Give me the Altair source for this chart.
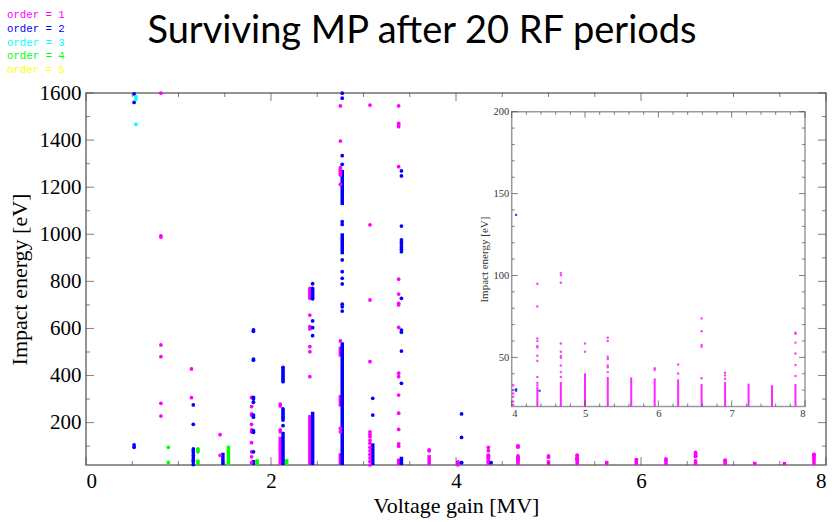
import altair as alt
import pandas as pd

# ---------------- data ----------------
TITLE = "Surviving MP after 20 RF periods"
LEGEND_LABELS = ["order = 1", "order = 2", "order = 3", "order = 4", "order = 5"]
ORDERS = ["1", "2", "3", "4", "5"]
ORDER_COLORS = ["#ff00ff", "#0000ff", "#00ffff", "#00ff00", "#ffff00"]

# isolated impacts: (voltage gain [MV], [impact energies eV])
O1_POINTS = [
    (0.81, [1599, 993, 988, 530, 480, 282, 228]),
    (1.14, [428, 306]),
    (1.45, [149, 61]),
    (1.79, [307, 268, 237, 232, 193, 169, 161, 115, 76, 55, 30]),
    (2.10, [279, 271, 169, 161]),
    (2.42, [770, 763, 755, 748, 742, 735, 728, 657, 608, 598, 523, 501, 395]),
    (2.75, [1545, 1396, 1283, 1275, 1268, 1259, 1252, 1212, 547, 176, 161]),
    (3.07, [1549, 1040, 721, 459, 161, 150, 140, 125, 112, 95, 80, 65, 50, 35, 20]),
    (3.38, [1545, 1471, 1464, 1457, 1287, 809, 746, 707, 700, 605, 410, 395, 317, 240, 171, 110, 100]),
    (3.71, [84, 80]),
    (4.02, [33, 30, 28, 26, 23, 21]),
    (4.35, [95, 81, 61.6, 60, 57, 56, 51, 47.8, 38, 34.5, 33]),
    (4.67, [101.6, 100.2, 95.5, 58.5, 53.4, 50.8, 49.8, 45, 41, 38]),
    (5.00, [58.5, 53.4]),
    (5.31, [62, 60, 50.4, 49, 45, 44, 41]),
    (5.95, [43.3, 42.3]),
    (6.27, [45.7, 40.2]),
    (6.59, [73.8, 66, 57.5, 56.5, 37.2]),
    (6.91, [40.6, 39, 37]),
    (7.87, [65, 64.4, 59, 52.4, 45.3, 38.6]),
]
O2_POINTS = [
    (0.52, [1596, 1560, 105, 95]),
    (1.16, [275, 193, 88, 80, 71, 60, 50, 40, 33, 22]),
    (1.81, [594, 588, 470, 465, 307, 300, 286, 232, 223, 166, 159, 76]),
    (2.13, [435, 428, 420, 412, 404, 396, 388, 380, 374, 258, 250, 242, 234, 226, 218, 211, 187]),
    (2.45, [790, 770, 762, 755, 748, 740, 733, 726, 632, 603, 569]),
    (2.77, [1599, 1578, 1334, 1297, 1054, 1042, 891, 841, 813, 789, 703, 692, 674]),
    (3.10, [303, 232]),
    (3.41, [1269, 1248, 1035, 976, 966, 956, 946, 936, 926, 728, 593, 584, 504, 367]),
    (4.06, [237, 137, 30.5, 29.6]),
    (4.38, [29.6]),
]
O3_POINTS = [
    (0.54, [1585, 1573, 1467]),
]
O4_POINTS = [
    (0.89, [95, 31]),
    (1.21, [89, 82, 76, 36, 27]),
]

# densely filled stretches: (voltage gain, lowest energy, highest energy)
O1_SEGS = [
    (2.10, 20, 140), (2.42, 20, 232),
    (2.75, 480, 523), (2.75, 268, 317), (2.75, 20, 70),
    (3.38, 20, 47), (3.71, 20, 62),
    (4.35, 20, 32), (4.67, 20, 35), (5.00, 20, 40.3), (5.31, 20, 38),
    (5.63, 20, 37.8), (5.95, 20, 37.2), (6.27, 20, 36.6), (6.59, 20, 33.7),
    (6.91, 20, 35), (7.23, 20, 34), (7.55, 20, 33), (7.87, 20, 33.7),
]
O2_SEGS = [
    (1.48, 20, 72), (1.81, 20, 41), (2.13, 20, 161), (2.45, 20, 246),
    (2.77, 1124, 1273), (2.77, 915, 1004), (2.77, 20, 541),
    (3.10, 20, 112), (3.41, 20, 55),
]
O4_SEGS = [
    (1.54, 20, 102), (1.85, 20, 45), (2.17, 20, 45),
]

MAIN_X_DOMAIN = [0, 8]
MAIN_Y_DOMAIN = [20, 1600]
MAIN_X_LABELS = [0, 2, 4, 6, 8]
MAIN_X_MINOR = [0.5, 1, 1.5, 2.5, 3, 3.5, 4.5, 5, 5.5, 6.5, 7, 7.5]
MAIN_Y_LABELS = [200, 400, 600, 800, 1000, 1200, 1400, 1600]
MAIN_Y_MINOR = [100, 300, 500, 700, 900, 1100, 1300, 1500]

INSET_X_DOMAIN = [4, 8]
INSET_Y_DOMAIN = [20, 200]
INSET_X_LABELS = [4, 5, 6, 7, 8]
INSET_X_MINOR = [4.2, 4.4, 4.6, 4.8, 5.2, 5.4, 5.6, 5.8, 6.2, 6.4, 6.6, 6.8, 7.2, 7.4, 7.6, 7.8]
INSET_Y_LABELS = [50, 100, 150, 200]
INSET_Y_MINOR = [30, 40, 60, 70, 80, 90, 110, 120, 130, 140, 160, 170, 180, 190]

# ---------------- tables ----------------
def points_df(cols, order):
    return pd.DataFrame([{"v": x, "e": e, "order": order} for x, es in cols for e in es])


def segs_df(segs, order):
    return pd.DataFrame([{"v": x, "lo": lo, "hi": hi, "order": order} for x, lo, hi in segs])


pts = pd.concat([points_df(O1_POINTS, "1"), points_df(O2_POINTS, "2"),
                 points_df(O3_POINTS, "3"), points_df(O4_POINTS, "4")], ignore_index=True)
segs = pd.concat([segs_df(O1_SEGS, "1"), segs_df(O2_SEGS, "2"), segs_df(O4_SEGS, "4")],
                 ignore_index=True)

SERIF = "Liberation Serif"
COLOR = alt.Color("order:N", scale=alt.Scale(domain=ORDERS, range=ORDER_COLORS), legend=None)

# ---------------- main panel ----------------
X_SCALE = alt.Scale(domain=MAIN_X_DOMAIN, nice=False, zero=False)
Y_SCALE = alt.Scale(domain=MAIN_Y_DOMAIN, nice=False, zero=False)
X_AXIS = alt.Axis(values=MAIN_X_LABELS, orient="bottom", title="Voltage gain [MV]", format="d",
                  labelFont=SERIF, labelFontSize=21, labelColor="black", labelPadding=5,
                  titleFont=SERIF, titleFontSize=22, titleFontWeight="normal", titleColor="black",
                  titlePadding=4, ticks=False, tickSize=0, domain=False, grid=False)
Y_AXIS = alt.Axis(values=MAIN_Y_LABELS, orient="left", title="Impact energy [eV]", format="d",
                  labelFont=SERIF, labelFontSize=21, labelColor="black", labelPadding=5,
                  titleFont=SERIF, titleFontSize=22, titleFontWeight="normal", titleColor="black",
                  titlePadding=8, ticks=False, tickSize=0, domain=False, grid=False)

main_segs = alt.Chart(segs).mark_rule(strokeWidth=3.5).encode(
    x=alt.X("v:Q", scale=X_SCALE, axis=X_AXIS),
    y=alt.Y("lo:Q", scale=Y_SCALE, axis=Y_AXIS),
    y2="hi:Q",
    color=COLOR,
)
main_pts = alt.Chart(pts).mark_circle(size=14, opacity=1).encode(
    x=alt.X("v:Q", scale=X_SCALE, axis=X_AXIS),
    y=alt.Y("e:Q", scale=Y_SCALE, axis=Y_AXIS),
    color=COLOR,
)

TICK_COLOR = "#4a4a4a"


def xticks(vals, ypos, size, inward, xs, ys, xa, ya):
    return alt.Chart(pd.DataFrame({"t": vals})).mark_tick(
        orient="vertical", size=size, thickness=1, color=TICK_COLOR, yOffset=inward * size / 2
    ).encode(x=alt.X("t:Q", scale=xs, axis=xa), y=alt.YDatum(ypos, scale=ys, axis=ya))


def yticks(vals, xpos, size, inward, xs, ys, xa, ya):
    return alt.Chart(pd.DataFrame({"t": vals})).mark_tick(
        orient="horizontal", size=size, thickness=1, color=TICK_COLOR, xOffset=inward * size / 2
    ).encode(y=alt.Y("t:Q", scale=ys, axis=ya), x=alt.XDatum(xpos, scale=xs, axis=xa))


main_ticks = [
    xticks(MAIN_X_LABELS, MAIN_Y_DOMAIN[0], 8, -1, X_SCALE, Y_SCALE, X_AXIS, Y_AXIS),
    xticks(MAIN_X_MINOR, MAIN_Y_DOMAIN[0], 4, -1, X_SCALE, Y_SCALE, X_AXIS, Y_AXIS),
    xticks(MAIN_X_LABELS, MAIN_Y_DOMAIN[1], 8, 1, X_SCALE, Y_SCALE, X_AXIS, Y_AXIS),
    xticks(MAIN_X_MINOR, MAIN_Y_DOMAIN[1], 4, 1, X_SCALE, Y_SCALE, X_AXIS, Y_AXIS),
    yticks(MAIN_Y_LABELS, MAIN_X_DOMAIN[0], 8, 1, X_SCALE, Y_SCALE, X_AXIS, Y_AXIS),
    yticks(MAIN_Y_MINOR, MAIN_X_DOMAIN[0], 4, 1, X_SCALE, Y_SCALE, X_AXIS, Y_AXIS),
    yticks(MAIN_Y_LABELS, MAIN_X_DOMAIN[1], 8, -1, X_SCALE, Y_SCALE, X_AXIS, Y_AXIS),
    yticks(MAIN_Y_MINOR, MAIN_X_DOMAIN[1], 4, -1, X_SCALE, Y_SCALE, X_AXIS, Y_AXIS),
]

main = alt.layer(main_segs, main_pts, *main_ticks)

# ---------------- inset panel ----------------
IX_SCALE = alt.Scale(domain=INSET_X_DOMAIN, range=[425.7, 719], nice=False, zero=False)
IY_SCALE = alt.Scale(domain=INSET_Y_DOMAIN, range=[313.5, 18.7], nice=False, zero=False)
IX_AXIS = alt.Axis(values=INSET_X_LABELS, orient="bottom", offset=-58.5, title=None, format="d",
                   labelFont=SERIF, labelFontSize=10.5, labelColor="#333333", labelPadding=2,
                   ticks=False, tickSize=0, domain=False, grid=False)
IY_AXIS = alt.Axis(values=INSET_Y_LABELS, orient="left", offset=-425.7, title="Impact energy [eV]",
                   format="d",
                   labelFont=SERIF, labelFontSize=10.5, labelColor="#333333", labelPadding=3,
                   titleFont=SERIF, titleFontSize=11, titleFontWeight="normal", titleColor="#333333",
                   titlePadding=3, ticks=False, tickSize=0, domain=False, grid=False)

frame = alt.Chart(pd.DataFrame({"x": [INSET_X_DOMAIN[0]], "x2": [INSET_X_DOMAIN[1]],
                                "y": [INSET_Y_DOMAIN[0]], "y2": [INSET_Y_DOMAIN[1]]})).mark_rect(
    fill="white", stroke="#9a9a9a", strokeWidth=1.5
).encode(
    x=alt.X("x:Q", scale=IX_SCALE, axis=IX_AXIS), x2="x2:Q",
    y=alt.Y("y:Q", scale=IY_SCALE, axis=IY_AXIS), y2="y2:Q",
)
inset_segs = alt.Chart(segs).transform_filter(
    alt.datum.v >= INSET_X_DOMAIN[0] - 0.01
).mark_rule(strokeWidth=2, opacity=0.85).encode(
    x=alt.X("v:Q", scale=IX_SCALE, axis=IX_AXIS),
    y=alt.Y("lo:Q", scale=IY_SCALE, axis=IY_AXIS),
    y2="hi:Q",
    color=COLOR,
)
inset_pts = alt.Chart(pts).transform_filter(
    (alt.datum.v >= INSET_X_DOMAIN[0] - 0.01) & (alt.datum.e <= INSET_Y_DOMAIN[1])
).mark_circle(size=6, opacity=0.75).encode(
    x=alt.X("v:Q", scale=IX_SCALE, axis=IX_AXIS),
    y=alt.Y("e:Q", scale=IY_SCALE, axis=IY_AXIS),
    color=COLOR,
)
inset_ticks = [
    xticks(INSET_X_LABELS, INSET_Y_DOMAIN[0], 6, -1, IX_SCALE, IY_SCALE, IX_AXIS, IY_AXIS),
    xticks(INSET_X_MINOR, INSET_Y_DOMAIN[0], 3, -1, IX_SCALE, IY_SCALE, IX_AXIS, IY_AXIS),
    xticks(INSET_X_LABELS, INSET_Y_DOMAIN[1], 6, 1, IX_SCALE, IY_SCALE, IX_AXIS, IY_AXIS),
    xticks(INSET_X_MINOR, INSET_Y_DOMAIN[1], 3, 1, IX_SCALE, IY_SCALE, IX_AXIS, IY_AXIS),
    yticks(INSET_Y_LABELS, INSET_X_DOMAIN[0], 6, 1, IX_SCALE, IY_SCALE, IX_AXIS, IY_AXIS),
    yticks(INSET_Y_MINOR, INSET_X_DOMAIN[0], 3, 1, IX_SCALE, IY_SCALE, IX_AXIS, IY_AXIS),
    yticks(INSET_Y_LABELS, INSET_X_DOMAIN[1], 6, -1, IX_SCALE, IY_SCALE, IX_AXIS, IY_AXIS),
    yticks(INSET_Y_MINOR, INSET_X_DOMAIN[1], 3, -1, IX_SCALE, IY_SCALE, IX_AXIS, IY_AXIS),
]
inset = alt.layer(frame, inset_segs, inset_pts, *inset_ticks)

# ---------------- legend text and title ----------------
legend = alt.Chart(pd.DataFrame({"label": LEGEND_LABELS, "order": ORDERS})).mark_text(
    font="Liberation Mono", fontSize=10.7, align="left", baseline="middle"
).encode(
    x=alt.value(-79),
    y=alt.Y("label:N", scale=alt.Scale(type="point", domain=LEGEND_LABELS,
                                       range=[-78.3, -22.7], padding=0), axis=None),
    text="label:N",
    color=COLOR,
)
title = alt.Chart(pd.DataFrame({"t": [TITLE]})).mark_text(
    font="Lato", fontSize=38, align="center", baseline="alphabetic", color="black"
).encode(x=alt.value(336), y=alt.value(-50), text="t:N")

chart = alt.layer(main, inset, legend, title).resolve_scale(
    x="independent", y="independent"
).properties(
    width=740, height=372,
    padding={"left": 86, "top": 93, "right": 8, "bottom": 57},
    autosize=alt.AutoSizeParams(type="none"),
    background="white",
).configure_view(stroke="#707070", strokeWidth=1.5)

chart.save("out.html", embed_options={"renderer": "svg", "actions": False})
